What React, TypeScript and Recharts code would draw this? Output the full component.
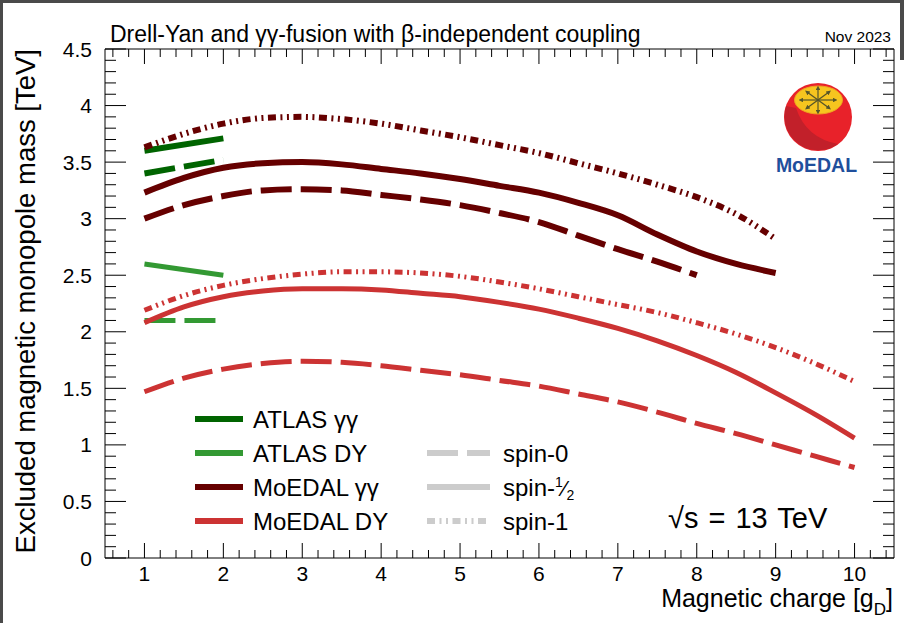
import React from 'react';
import { LineChart, Line, XAxis, YAxis } from 'recharts';

const FONT = '"Liberation Sans", Arial, Helvetica, sans-serif';

// magnetic charge [g_D] sampling of each curve
const atlasX = [1, 2];
const moedalGGX = [1, 1.5, 2, 2.5, 3, 3.5, 4, 4.5, 5, 5.5, 6, 6.5, 7, 7.5, 8, 8.5, 9];
const moedalGGSpin0X = [1, 1.5, 2, 2.5, 3, 3.5, 4, 4.5, 5, 5.5, 6, 6.5, 7, 7.5, 8];
const moedalDYX = [1, 1.5, 2, 2.5, 3, 3.5, 4, 4.5, 5, 5.5, 6, 6.5, 7, 7.5, 8, 8.5, 9, 9.5, 10];

// excluded mass [TeV]
const atlasGGSpin0 = [3.4, 3.52];
const atlasGGSpinHalf = [3.6, 3.71];
const atlasDYSpin0 = [2.1, 2.1];
const atlasDYSpinHalf = [2.6, 2.5];

const moedalGGSpin1 = [3.63, 3.75, 3.84, 3.89, 3.9, 3.88, 3.84, 3.78, 3.72, 3.65, 3.58, 3.49, 3.4, 3.3, 3.19, 3.04, 2.82];
const moedalGGSpinHalf = [3.23, 3.36, 3.45, 3.49, 3.5, 3.48, 3.44, 3.4, 3.35, 3.29, 3.23, 3.14, 3.03, 2.86, 2.71, 2.6, 2.52];
const moedalGGSpin0 = [3.0, 3.12, 3.2, 3.25, 3.26, 3.25, 3.21, 3.17, 3.12, 3.05, 2.97, 2.85, 2.73, 2.62, 2.5];

const moedalDYSpin1 = [2.19, 2.32, 2.41, 2.47, 2.51, 2.53, 2.53, 2.52, 2.49, 2.44, 2.38, 2.31, 2.24, 2.17, 2.08, 1.98, 1.86, 1.72, 1.56];
const moedalDYSpinHalf = [2.08, 2.22, 2.31, 2.36, 2.38, 2.38, 2.37, 2.34, 2.31, 2.26, 2.2, 2.12, 2.03, 1.92, 1.79, 1.64, 1.46, 1.27, 1.06];
const moedalDYSpin0 = [1.47, 1.59, 1.67, 1.72, 1.74, 1.73, 1.7, 1.66, 1.62, 1.57, 1.52, 1.45, 1.38, 1.29, 1.19, 1.1, 1.0, 0.9, 0.8];

const xMajorTicks = [1, 2, 3, 4, 5, 6, 7, 8, 9, 10];
const yMajorTicks = [0, 0.5, 1, 1.5, 2, 2.5, 3, 3.5, 4, 4.5];

const legendEntries = ['ATLAS γγ', 'ATLAS DY', 'MoEDAL γγ', 'MoEDAL DY'];

const C_ATLAS_GG = '#006400';
const C_ATLAS_DY = '#339933';
const C_MOEDAL_GG = '#660000';
const C_MOEDAL_DY = '#cc3333';
const C_SPIN = '#cccccc';

const DASH = '31 9';
const DASHDOT = '8 4.5 2 4.5 2 4.5';

// minor ticks every 0.2 on x, every 0.1 on y
const xTicks: number[] = [];
for (let i = 3; i <= 52; i++) xTicks.push(Math.round(i * 20) / 100);
const yTicks: number[] = [];
for (let i = 0; i <= 45; i++) yTicks.push(Math.round(i * 10) / 100);

const isMajor = (v: number, list: number[]) => list.some((m) => Math.abs(m - v) < 1e-6);

const pts = (xs: number[], ys: number[]) => xs.map((x, i) => ({ x, y: ys[i] }));

const BottomTick = (props: any) => {
  const { x, y, payload } = props;
  const major = isMajor(payload.value, xMajorTicks);
  return (
    <g>
      <line x1={x} x2={x} y1={y} y2={y - (major ? 15 : 8)} stroke="#000" strokeWidth={1} />
      {major && (
        <text x={x} y={y + 23} textAnchor="middle" fontSize={21} fontFamily={FONT} fill="#000">
          {payload.value}
        </text>
      )}
    </g>
  );
};

const TopTick = (props: any) => {
  const { x, y, payload } = props;
  const major = isMajor(payload.value, xMajorTicks);
  return <line x1={x} x2={x} y1={y} y2={y + (major ? 15 : 8)} stroke="#000" strokeWidth={1} />;
};

const LeftTick = (props: any) => {
  const { x, y, payload } = props;
  const major = isMajor(payload.value, yMajorTicks);
  return (
    <g>
      <line x1={x} x2={x + (major ? 21 : 11)} y1={y} y2={y} stroke="#000" strokeWidth={1} />
      {major && (
        <text x={x - 13} y={y + 7.5} textAnchor="end" fontSize={21} fontFamily={FONT} fill="#000">
          {payload.value}
        </text>
      )}
    </g>
  );
};

const RightTick = (props: any) => {
  const { x, y, payload } = props;
  const major = isMajor(payload.value, yMajorTicks);
  return <line x1={x} x2={x - (major ? 21 : 11)} y1={y} y2={y} stroke="#000" strokeWidth={1} />;
};

const series = [
  { name: 'atlasGG0', data: pts(atlasX, atlasGGSpin0), color: C_ATLAS_GG, w: 6, dash: DASH },
  { name: 'atlasGGh', data: pts(atlasX, atlasGGSpinHalf), color: C_ATLAS_GG, w: 6, dash: undefined },
  { name: 'atlasDY0', data: pts(atlasX, atlasDYSpin0), color: C_ATLAS_DY, w: 5, dash: DASH },
  { name: 'atlasDYh', data: pts(atlasX, atlasDYSpinHalf), color: C_ATLAS_DY, w: 5, dash: undefined },
  { name: 'moedalGG1', data: pts(moedalGGX, moedalGGSpin1), color: C_MOEDAL_GG, w: 6, dash: DASHDOT },
  { name: 'moedalGGh', data: pts(moedalGGX, moedalGGSpinHalf), color: C_MOEDAL_GG, w: 6, dash: undefined },
  { name: 'moedalGG0', data: pts(moedalGGSpin0X, moedalGGSpin0), color: C_MOEDAL_GG, w: 6, dash: DASH },
  { name: 'moedalDY1', data: pts(moedalDYX, moedalDYSpin1), color: C_MOEDAL_DY, w: 5, dash: DASHDOT },
  { name: 'moedalDYh', data: pts(moedalDYX, moedalDYSpinHalf), color: C_MOEDAL_DY, w: 5, dash: undefined },
  { name: 'moedalDY0', data: pts(moedalDYX, moedalDYSpin0), color: C_MOEDAL_DY, w: 5, dash: DASH },
];

const legendColors = [C_ATLAS_GG, C_ATLAS_DY, C_MOEDAL_GG, C_MOEDAL_DY];
const legendRowY = [419, 453, 487, 521];

const Logo = () => {
  const cx = 818;
  const cy = 100;
  const arrows = [
    [17, 0], [-17, 0], [0, 12], [0, -12], [11, 8], [-11, 8], [11, -8], [-11, -8],
  ];
  return (
    <g>
      <circle cx={818} cy={117} r={34} fill="#e8222a" />
      <path d="M 786 106 A 34 34 0 0 0 838 144 Q 806 138 796 108 Z" fill="#c2202a" />
      <ellipse cx={818.5} cy={100} rx={24} ry={14} fill="#f6c51f" stroke="#f0a020" strokeWidth={1} />
      {arrows.map(([dx, dy], i) => (
        <line key={i} x1={cx} y1={cy} x2={cx + dx} y2={cy + dy} stroke="#55552a" strokeWidth={1.2} markerEnd="url(#arrowhead)" />
      ))}
      <text x={816.5} y={172} textAnchor="middle" fontSize={19.5} fontWeight="bold" fontFamily={FONT} fill="#1f4f9c">
        MoEDAL
      </text>
    </g>
  );
};

const Overlay = () => (
  <svg width={904} height={623} style={{ position: 'absolute', left: 0, top: 0, pointerEvents: 'none' }}>
    <defs>
      <marker id="arrowhead" markerWidth="4" markerHeight="4" refX="2" refY="2" orient="auto">
        <path d="M0,0 L4,2 L0,4 Z" fill="#55552a" />
      </marker>
    </defs>
    <rect x={0} y={0} width={904} height={3} fill="#4a4a4a" />
    <rect x={0} y={0} width={3} height={623} fill="#4a4a4a" />
    <rect x={900} y={0} width={4} height={60} fill="#4a4a4a" />

    <text x={110} y={42} fontSize={23} fontFamily={FONT} fill="#000">
      Drell-Yan and γγ-fusion with β-independent coupling
    </text>
    <text x={891} y={42} textAnchor="end" fontSize={15.5} fontFamily={FONT} fill="#000">
      Nov 2023
    </text>

    <text
      transform="translate(35 49) rotate(-90)"
      textAnchor="end"
      fontSize={27.5}
      fontFamily={FONT}
      fill="#000"
    >
      Excluded magnetic monopole mass [TeV]
    </text>
    <text x={893} y={607} textAnchor="end" fontSize={25} fontFamily={FONT} fill="#000">
      Magnetic charge [g
      <tspan fontSize={17} dy={8}>D</tspan>
      <tspan dy={-8}>]</tspan>
    </text>

    {legendEntries.map((label, i) => (
      <g key={label}>
        <line x1={195} x2={243} y1={legendRowY[i]} y2={legendRowY[i]} stroke={legendColors[i]} strokeWidth={6} />
        <text x={253} y={legendRowY[i] + 8.5} fontSize={24} fontFamily={FONT} fill="#000">
          {label}
        </text>
      </g>
    ))}
    <line x1={427} x2={490} y1={legendRowY[1]} y2={legendRowY[1]} stroke={C_SPIN} strokeWidth={6} strokeDasharray={DASH} />
    <line x1={427} x2={490} y1={legendRowY[2]} y2={legendRowY[2]} stroke={C_SPIN} strokeWidth={6} />
    <line x1={427} x2={490} y1={legendRowY[3]} y2={legendRowY[3]} stroke={C_SPIN} strokeWidth={6} strokeDasharray={DASHDOT} />
    <text x={503} y={legendRowY[1] + 8.5} fontSize={24} fontFamily={FONT} fill="#000">
      spin-0
    </text>
    <text x={503} y={legendRowY[2] + 8.5} fontSize={24} fontFamily={FONT} fill="#000">
      spin-
      <tspan fontSize={14} dy={-9}>1</tspan>
      <tspan fontSize={22} dy={9}>⁄</tspan>
      <tspan fontSize={14} dy={4}>2</tspan>
    </text>
    <text x={503} y={legendRowY[3] + 8.5} fontSize={24} fontFamily={FONT} fill="#000">
      spin-1
    </text>

    <text x={668} y={528} fontSize={29} wordSpacing={2} fontFamily={FONT} fill="#000">
      √s = 13 TeV
    </text>

    <Logo />
  </svg>
);

export default function App() {
  return (
    <div style={{ position: 'absolute', left: 0, top: 0, width: 904, height: 623, background: '#fff' }}>
      <LineChart width={904} height={623} margin={{ top: 48, right: 9, bottom: 64, left: 104 }}>
        <XAxis
          xAxisId="b"
          dataKey="x"
          type="number"
          domain={[0.5, 10.5]}
          allowDataOverflow
          ticks={xTicks}
          interval={0}
          height={1}
          tickSize={0}
          tickMargin={0}
          tickLine={false}
          axisLine={{ stroke: '#000', strokeWidth: 1 }}
          tick={<BottomTick />}
        />
        <XAxis
          xAxisId="t"
          orientation="top"
          dataKey="x"
          type="number"
          domain={[0.5, 10.5]}
          allowDataOverflow
          ticks={xTicks}
          interval={0}
          height={1}
          tickSize={0}
          tickMargin={0}
          tickLine={false}
          axisLine={{ stroke: '#000', strokeWidth: 1 }}
          tick={<TopTick />}
        />
        <YAxis
          yAxisId="l"
          type="number"
          domain={[0, 4.5]}
          allowDataOverflow
          ticks={yTicks}
          interval={0}
          width={1}
          tickSize={0}
          tickMargin={0}
          tickLine={false}
          axisLine={{ stroke: '#000', strokeWidth: 1 }}
          tick={<LeftTick />}
        />
        <YAxis
          yAxisId="r"
          orientation="right"
          type="number"
          domain={[0, 4.5]}
          allowDataOverflow
          ticks={yTicks}
          interval={0}
          width={1}
          tickSize={0}
          tickMargin={0}
          tickLine={false}
          axisLine={{ stroke: '#000', strokeWidth: 1 }}
          tick={<RightTick />}
        />
        {series.map((s) => (
          <Line
            key={s.name}
            name={s.name}
            xAxisId="b"
            yAxisId="l"
            data={s.data}
            dataKey="y"
            type="monotone"
            stroke={s.color}
            strokeWidth={s.w}
            strokeDasharray={s.dash}
            dot={false}
            activeDot={false}
            isAnimationActive={false}
          />
        ))}
      </LineChart>
      <Overlay />
    </div>
  );
}
